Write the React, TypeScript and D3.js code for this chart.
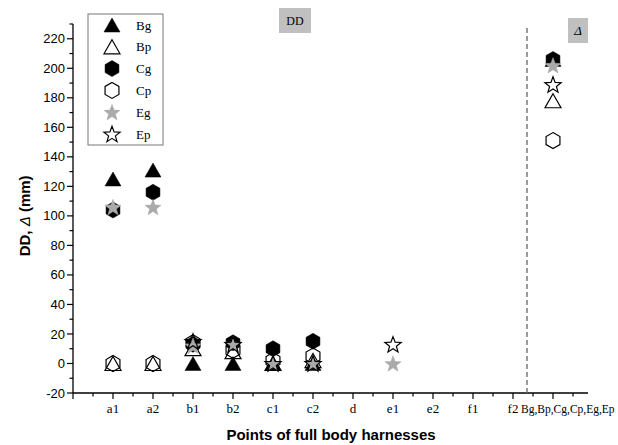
import React from "react";
import * as d3 from "d3";

const categories = ["a1", "a2", "b1", "b2", "c1", "c2", "d", "e1", "e2", "f1", "f2", "Bg,Bp,Cg,Cp,Eg,Ep"];
const Bg = [125, 131, 0, 0, 0, 0, null, null, null, null, null, 206];
const Bp = [0, 0, 10, 8, 0, 2, null, null, null, null, null, 178];
const Cg = [104, 116, 13, 14, 10, 15, null, null, null, null, null, 206];
const Cp = [0, 0, 14, 9, 2, 5, null, null, null, null, null, 151];
const Eg = [106, 106, 12, 13, 0, 0, null, 0, null, null, null, 202];
const Ep = [null, null, 15, 13, 0, 0, null, 13, null, null, null, 189];
const yTicks = [-20, 0, 20, 40, 60, 80, 100, 120, 140, 160, 180, 200, 220];

type Shape = "tri" | "hex" | "star";
const seriesList: { name: string; values: (number | null)[]; shape: Shape; filled: boolean; color: string }[] = [
  { name: "Bg", values: Bg, shape: "tri", filled: true, color: "#000" },
  { name: "Bp", values: Bp, shape: "tri", filled: false, color: "#000" },
  { name: "Cg", values: Cg, shape: "hex", filled: true, color: "#000" },
  { name: "Cp", values: Cp, shape: "hex", filled: false, color: "#000" },
  { name: "Eg", values: Eg, shape: "star", filled: true, color: "#aaa" },
  { name: "Ep", values: Ep, shape: "star", filled: false, color: "#000" },
];

function shapePath(shape: Shape): string {
  const p = d3.path();
  if (shape === "tri") {
    p.moveTo(0, -7);
    p.lineTo(8, 7);
    p.lineTo(-8, 7);
    p.closePath();
  } else if (shape === "hex") {
    const r = 8;
    for (let i = 0; i < 6; i++) {
      const a = -Math.PI / 2 + (i * Math.PI) / 3;
      const x = r * Math.cos(a);
      const y = r * Math.sin(a);
      if (i === 0) p.moveTo(x, y);
      else p.lineTo(x, y);
    }
    p.closePath();
  } else {
    const R = 8.5;
    const r = R * 0.42;
    for (let i = 0; i < 10; i++) {
      const a = -Math.PI / 2 + (i * Math.PI) / 5;
      const rr = i % 2 === 0 ? R : r;
      const x = rr * Math.cos(a);
      const y = rr * Math.sin(a) + 0.8;
      if (i === 0) p.moveTo(x, y);
      else p.lineTo(x, y);
    }
    p.closePath();
  }
  return p.toString();
}

function Marker({ s, x, y }: { s: (typeof seriesList)[number]; x: number; y: number }) {
  return (
    <path
      d={shapePath(s.shape)}
      transform={`translate(${x},${y})`}
      fill={s.filled ? s.color : "none"}
      stroke={s.filled ? s.color : "#000"}
      strokeWidth={s.filled ? 0.5 : 1.2}
      strokeLinejoin="miter"
    />
  );
}

export default function App() {
  const W = 618;
  const H = 445;
  const x0 = 73;
  const x1 = 588;
  const yb = 393;
  const yt = 24;
  const x = d3.scaleLinear().domain([0, 12.875]).range([x0, x1]);
  const y = d3.scaleLinear().domain([-20, 230]).range([yb, yt]);
  const minorY = d3.range(-20, 231, 10);
  const majorX = d3.range(1, 13);
  const minorX = d3.range(0.5, 12.6, 1);
  const serif = "'Liberation Serif', 'Times New Roman', serif";
  const sans = "'Liberation Sans', Arial, sans-serif";
  const last = categories.length - 1;

  return (
    <svg width={W} height={H} style={{ position: "absolute", left: 0, top: 0 }}>
      <rect x={0} y={0} width={W} height={H} fill="#fff" />
      {/* Y axis */}
      <line x1={x0} x2={x0} y1={yt} y2={yb} stroke="#000" strokeWidth={1.3} />
      {minorY.map((v) => (
        <line key={"my" + v} x1={x0 - (v % 20 === 0 ? 6 : 3.5)} x2={x0} y1={y(v)} y2={y(v)} stroke="#000" strokeWidth={1.2} />
      ))}
      {yTicks.map((v) => (
        <text key={"ty" + v} x={x0 - 8} y={y(v)} dy="0.35em" textAnchor="end" fontFamily={sans} fontSize={13} fill="#000">
          {v}
        </text>
      ))}
      {/* X axis */}
      <line x1={x0} x2={x1} y1={yb} y2={yb} stroke="#000" strokeWidth={1.3} />
      <line x1={x0} x2={x0} y1={yb} y2={yb + 6} stroke="#000" strokeWidth={1.2} />
      {majorX.map((v) => (
        <line key={"mx" + v} x1={x(v)} x2={x(v)} y1={yb} y2={yb + 6} stroke="#000" strokeWidth={1.2} />
      ))}
      {minorX.map((v) => (
        <line key={"nx" + v} x1={x(v)} x2={x(v)} y1={yb} y2={yb + 3.5} stroke="#000" strokeWidth={1.2} />
      ))}
      {categories.map((c, i) =>
        i === last ? (
          <text
            key={"tx" + c}
            x={x(i + 1) - 32}
            y={yb + 20}
            textAnchor="start"
            fontFamily={serif}
            fontSize={11.5}
            fill="#000"
          >
            {c}
          </text>
        ) : (
          <text key={"tx" + c} x={x(i + 1)} y={yb + 20} textAnchor="middle" fontFamily={serif} fontSize={13} fill="#000">
            {c}
          </text>
        )
      )}
      {/* Titles */}
      <text x={331} y={440} textAnchor="middle" fontFamily={sans} fontWeight="bold" fontSize={15} fill="#000">
        Points of full body harnesses
      </text>
      <text
        transform={`translate(30,${y(100)}) rotate(-90)`}
        textAnchor="middle"
        fontFamily={sans}
        fontWeight="bold"
        fontSize={15}
        fill="#000"
      >
        DD, <tspan fontStyle="italic" fontWeight="normal">Δ</tspan> (mm)
      </text>
      {/* Dashed separator */}
      <line x1={x(11.35)} x2={x(11.35)} y1={28} y2={yb} stroke="#666" strokeWidth={1.3} strokeDasharray="5,3" />
      {/* Section labels */}
      <rect x={279} y={8} width={32} height={25} fill="#c0c0c0" />
      <text x={295} y={20.5} dy="0.35em" textAnchor="middle" fontFamily={serif} fontSize={12} fill="#000">
        DD
      </text>
      <rect x={568} y={18} width={20} height={25} fill="#c0c0c0" />
      <text x={578} y={30.5} dy="0.35em" textAnchor="middle" fontFamily={serif} fontStyle="italic" fontSize={13} fill="#000">
        Δ
      </text>
      {/* Data */}
      {seriesList.map((s) =>
        s.values.map((v, i) =>
          v === null ? null : <Marker key={s.name + i} s={s} x={x(i + 1)} y={y(v)} />
        )
      )}
      {/* Legend */}
      <rect x={88} y={14} width={75} height={131} fill="#fff" stroke="#777" strokeWidth={1} />
      {seriesList.map((s, i) => (
        <g key={"lg" + s.name}>
          <Marker s={s} x={112} y={25 + i * 21.8} />
          <text x={136} y={25 + i * 21.8} dy="0.35em" fontFamily={serif} fontSize={13} fill="#000">
            {s.name}
          </text>
        </g>
      ))}
    </svg>
  );
}
